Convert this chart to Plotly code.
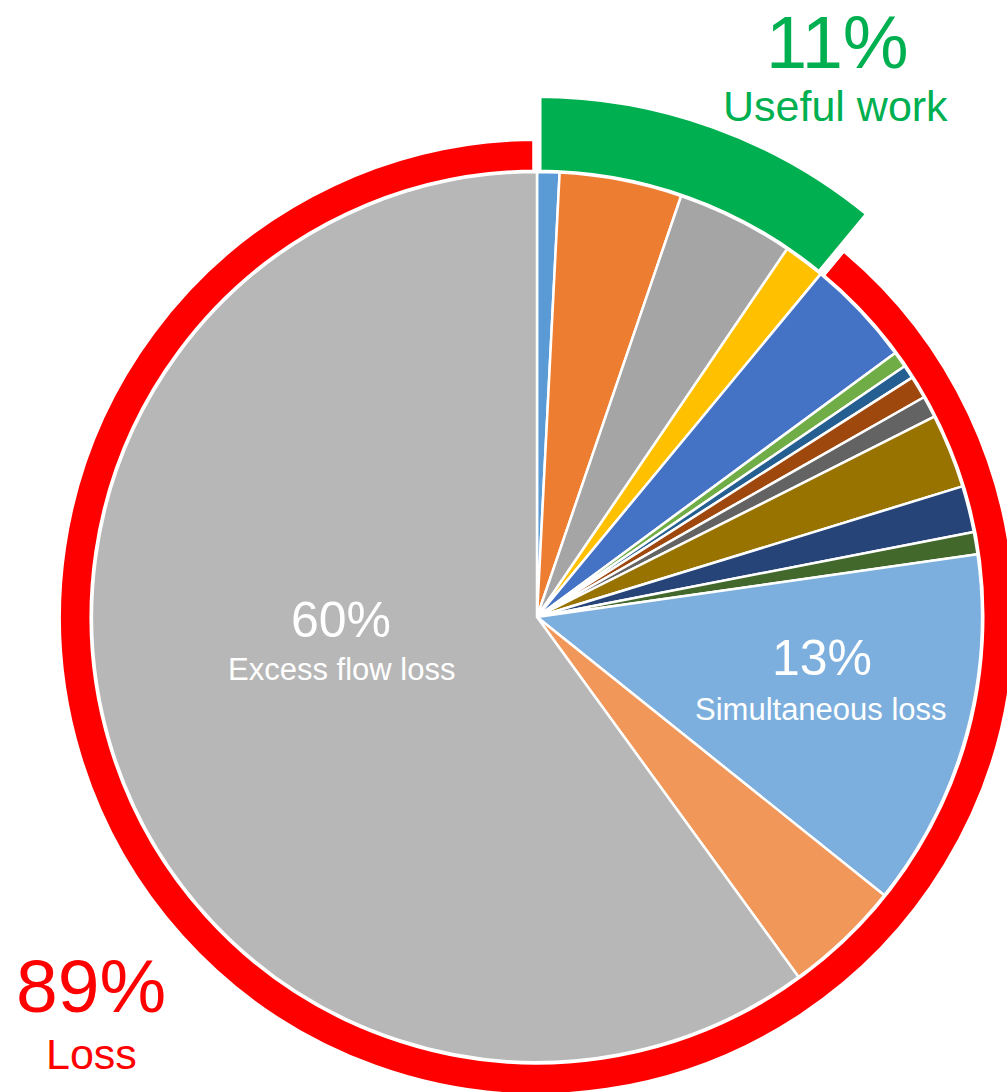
import plotly.graph_objects as go

# ---- data -----------------------------------------------------------------
# Slices run clockwise from 12 o'clock.
useful_labels = ["Useful 1", "Useful 2", "Useful 3", "Useful 4"]
useful_values = [0.81, 4.44, 4.25, 1.50]
useful_colors = ["#5B9BD5", "#ED7D31", "#A5A5A5", "#FFC000"]

loss_labels = ["Loss 1", "Loss 2", "Loss 3", "Loss 4", "Loss 5", "Loss 6",
               "Loss 7", "Loss 8", "Simultaneous loss", "Loss 9",
               "Excess flow loss"]
loss_values = [3.89, 0.58, 0.49, 0.82, 0.79, 2.69, 1.68, 0.81, 13, 4.25, 60]
loss_colors = ["#4472C4", "#70AD47", "#255E91", "#9E480E", "#636363",
               "#997300", "#264478", "#43682B", "#7CAFDD", "#F1975A",
               "#B7B7B7"]

ring_labels = ["Useful work", "Loss"]
ring_values = [11, 89]
ring_colors = ["#00B050", "#FF0000"]

# ---- geometry (pixels) ----------------------------------------------------
W, H = 1080, 1160          # canvas; the page shows the top-left 1007 x 1092
VIEW_W, VIEW_H = 1007, 1092
cx, cy = 537, 617          # pie centre
R_PIE = 445
GAP = 9                    # white gap between ring segments
R_RED, R_GREEN = 480.5, 523.5
R_RING_IN = 443

FONT = "Liberation Sans, Arial, sans-serif"
CLEAR = "rgba(0,0,0,0)"


def domain(r):
    return dict(x=[(cx - r) / W, (cx + r) / W],
                y=[1 - (cy + r) / H, 1 - (cy - r) / H])


def px(x, y):
    return x / W, 1 - y / H


common = dict(sort=False, direction="clockwise", rotation=0,
              textinfo="none", hoverinfo="skip", showlegend=False)

# outer loss ring (red)
red_ring = go.Pie(
    labels=ring_labels, values=ring_values,
    marker=dict(colors=[CLEAR, ring_colors[1]],
                line=dict(color="white", width=[0, GAP])),
    hole=R_RING_IN / R_RED, domain=domain(R_RED), **common)

# outer useful-work ring (green, wider)
green_ring = go.Pie(
    labels=ring_labels, values=ring_values,
    marker=dict(colors=[ring_colors[0], CLEAR],
                line=dict(color="white", width=[GAP, 0])),
    hole=R_RING_IN / R_GREEN, domain=domain(R_GREEN), **common)

# inner breakdown pie
main_pie = go.Pie(
    labels=useful_labels + loss_labels,
    values=useful_values + loss_values,
    marker=dict(colors=useful_colors + loss_colors,
                line=dict(color="white", width=2.5)),
    domain=domain(R_PIE), **common)

fig = go.Figure([red_ring, green_ring, main_pie])


def label(x, y, text, size, color, anchor="middle"):
    ax, ay = px(x, y)
    fig.add_annotation(x=ax, y=ay, xref="paper", yref="paper", text=text,
                       showarrow=False, xanchor="center", yanchor=anchor,
                       borderpad=0,
                       font=dict(family=FONT, size=size, color=color))


excess = loss_values[loss_labels.index("Excess flow loss")]
simult = loss_values[loss_labels.index("Simultaneous loss")]

label(341, 620, f"{excess:g}%", 50, "white")
label(341.5, 669, "Excess flow loss", 31, "white")
label(821.5, 658, f"{simult:g}%", 50, "white")
label(821, 709, "Simultaneous loss", 31, "white")

label(837.5, 0, f"{ring_values[0]:g}%", 74, ring_colors[0], anchor="top")
label(835, 106, ring_labels[0], 43, ring_colors[0])
label(91, 986, f"{ring_values[1]:g}%", 75, ring_colors[1])
label(91.5, 1054, ring_labels[1], 43, ring_colors[1])

fig.update_layout(width=W, height=H, margin=dict(l=0, r=0, t=0, b=0, pad=0),
                  paper_bgcolor="white", plot_bgcolor="white",
                  showlegend=False)

# keep the page to the visible window size
post = (
    "var gd=document.getElementById('{plot_id}');"
    f"gd.style.width='{VIEW_W}px';gd.style.height='{VIEW_H}px';"
    "gd.style.overflow='hidden';"
    "document.body.style.margin='0';document.body.style.overflow='hidden';"
    "document.documentElement.style.overflow='hidden';"
)

fig.write_html("out.html", config={"displayModeBar": False,
                                   "responsive": False},
               post_script=post)
